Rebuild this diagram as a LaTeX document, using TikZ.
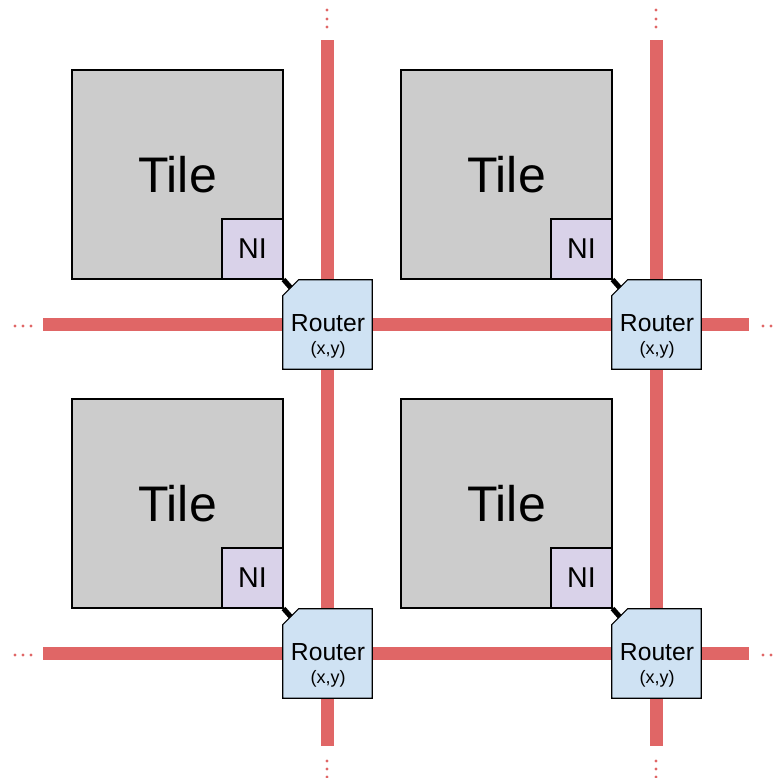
\documentclass[tikz,border=0pt]{standalone}
\usepackage{fontspec}
\setmainfont{Liberation Sans}
\usetikzlibrary{calc}
\definecolor{meshred}{HTML}{E06666}
\definecolor{tilegray}{HTML}{CCCCCC}
\definecolor{nipurple}{HTML}{D9D2E9}
\definecolor{routerblue}{HTML}{CFE2F3}

\begin{document}
\begin{tikzpicture}[x=0.75pt,y=-0.75pt,
    meshlink/.style={meshred,line width=9.75pt},
    meshdot/.style={fill=meshred,circle,inner sep=0pt,minimum size=2.4pt},
    tile/.style={draw,fill=tilegray,line width=0.8pt,inner sep=0pt,
      minimum width=158.25pt,minimum height=156.75pt,
      font=\fontsize{37.5}{40}\selectfont},
    ni/.style={draw,fill=nipurple,line width=0.8pt,inner sep=0pt,
      minimum width=45.75pt,minimum height=45pt,anchor=south east,
      font=\fontsize{21.5}{24}\selectfont},
    router/.style={inner sep=0pt,minimum width=66.75pt,minimum height=66.75pt},
    routerbox/.style={draw,fill=routerblue,line width=0.8pt},
    rname/.style={anchor=base,inner sep=0pt,font=\fontsize{18.5}{20}\selectfont},
    rcoord/.style={anchor=base,inner sep=0pt,font=\fontsize{13.5}{14}\selectfont},
    nilink/.style={line width=3.75pt}]
  \useasboundingbox (0,0) rectangle (772,778);

  % mesh links and the dots that continue them
  \foreach \d in {0,329} {
    \draw[meshlink] (43,324.5+\d) -- (749,324.5+\d);
    \draw[meshlink] (327+\d,40) -- (327+\d,746);
    \foreach \p in {15,23,31} \node[meshdot] at (\p,326+\d) {};
    \foreach \p in {763,771,779} \node[meshdot] at (\p,326+\d) {};
    \foreach \p in {10,19,27} \node[meshdot] at (327+\d,\p) {};
    \foreach \p in {761,769,777} \node[meshdot] at (327+\d,\p) {};
  }

  % one tile, NI and router per grid cell
  \foreach \c/\dx in {0/0,1/329} {
    \foreach \r/\dy in {0/0,1/329} {
      \node[tile] (tile\c\r) at (177.5+\dx,174.5+\dy) {Tile};
      \node[ni] (ni\c\r) at (tile\c\r.south east) {NI};
      \node[router] (router\c\r) at (327.5+\dx,324.5+\dy) {};
      % router outline with its cut corner
      \filldraw[routerbox] ($(router\c\r.north west)+(16,0)$)
        -- (router\c\r.north east) -- (router\c\r.south east)
        -- (router\c\r.south west) -- ($(router\c\r.north west)+(0,16)$) -- cycle;
      \coordinate (port\c\r) at ($(router\c\r.north west)+(8,8)$);
      \node[rname] (rname\c\r) at ($(router\c\r)+(0.5,6.5)$) {Router};
      \node[rcoord] (rcoord\c\r) at ($(router\c\r)+(0.5,29.5)$) {(x,y)};
      \draw[nilink] (ni\c\r.south east) -- (port\c\r);
    }
  }
\end{tikzpicture}
\end{document}
